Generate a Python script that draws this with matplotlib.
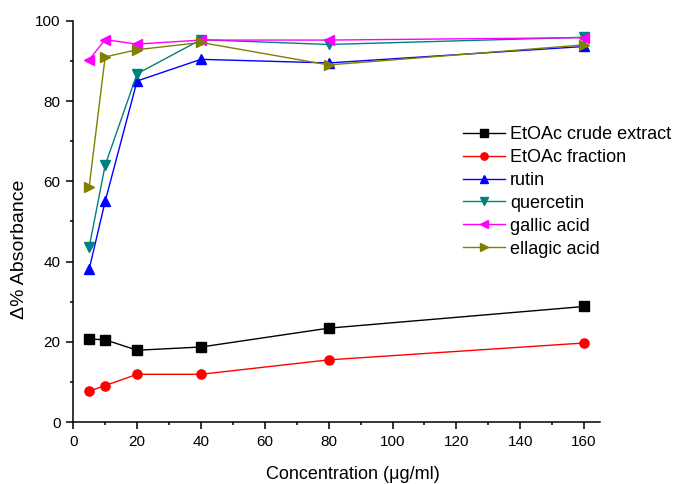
import matplotlib.pyplot as plt
import numpy as np

plt.rcParams['font.family'] = ['Liberation Sans', 'DejaVu Sans']

conc = [5, 10, 20, 40, 80, 160]
crude = [20.7, 20.5, 17.9, 18.7, 23.4, 28.8]
fraction = [7.7, 9.1, 11.9, 11.9, 15.5, 19.7]
rutin = [38.1, 55.0, 85.0, 90.4, 89.5, 93.6]
quercetin = [43.6, 64.0, 86.8, 95.3, 94.1, 95.9]
gallic = [90.3, 95.3, 94.2, 95.2, 95.2, 95.8]
ellagic = [58.7, 91.0, 92.8, 94.6, 89.0, 94.0]

series = [
    ('EtOAc crude extract', crude, 'black', 's'),
    ('EtOAc fraction', fraction, 'red', 'o'),
    ('rutin', rutin, 'blue', '^'),
    ('quercetin', quercetin, '#008080', 'v'),
    ('gallic acid', gallic, 'magenta', '<'),
    ('ellagic acid', ellagic, '#808000', '>'),
]

fig = plt.figure(figsize=(6.78, 4.84), dpi=100)
ax = fig.add_axes([0.108, 0.128, 0.777, 0.829])

for name, vals, col, mk in series:
    ax.plot(conc, vals, color=col, marker=mk, markersize=6.6, linewidth=1, label=name)

ax.set_xlim(0, 165)
ax.set_ylim(0, 100)
ax.set_xticks(np.arange(0, 161, 20))
ax.set_xticks(np.arange(0, 161, 10), minor=True)
ax.set_yticks(np.arange(0, 101, 20))
ax.set_yticks(np.arange(0, 101, 10), minor=True)
ax.tick_params(which='both', direction='out', labelsize=11, width=1.1, pad=4)
ax.tick_params(which='major', length=5)
ax.tick_params(which='minor', length=2.5)
ax.spines['top'].set_visible(False)
ax.spines['right'].set_visible(False)
for s in ('left', 'bottom'):
    ax.spines[s].set_linewidth(1.1)

ax.set_xlabel('Concentration (\u03bcg/ml)', fontsize=13)
ax.set_ylabel('\u0394% Absorbance', fontsize=14)
ax.xaxis.set_label_coords(0.531, -0.11)
ax.yaxis.set_label_coords(-0.085, 0.43)

ax.legend(loc='upper left', bbox_to_anchor=(0.727, 0.756), frameon=False,
          fontsize=13, handlelength=2.3, labelspacing=0.33, borderaxespad=0,
          markerscale=0.8, handletextpad=0.28)

fig.savefig('out.png', dpi=100)
